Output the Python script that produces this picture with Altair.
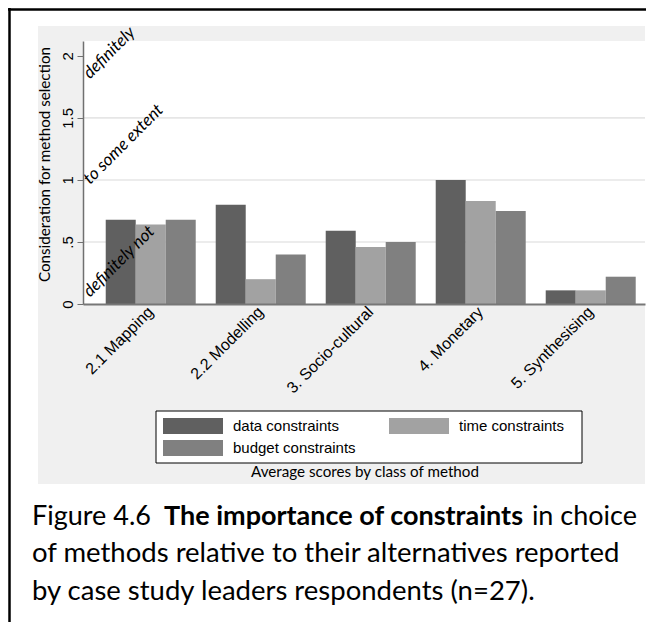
import altair as alt
import pandas as pd

methods = ["2.1 Mapping", "2.2 Modelling", "3. Socio-cultural", "4. Monetary", "5. Synthesising"]
series = ["data constraints", "time constraints", "budget constraints"]
colors = ["#606060", "#a2a2a2", "#808080"]
data_c = [0.68, 0.80, 0.59, 1.00, 0.11]
time_c = [0.64, 0.20, 0.46, 0.83, 0.11]
budget_c = [0.68, 0.40, 0.50, 0.75, 0.22]

y_ticks = [0, 0.5, 1, 1.5, 2]
grid_vals = [0.5, 1, 1.5]
ann_text = ["definitely", "to some extent", "definitely not"]
ann_y = [1.81, 0.96, 0.05]

y_title = "Consideration for method selection"
x_title = "Average scores by class of method"
cap1a = "Figure 4.6"
cap1b = "The importance of constraints"
cap1c = "in choice"
cap2 = "of methods relative to their alternatives reported"
cap3 = "by case study leaders respondents (n=27)."

rows = []
for s, vals in zip(series, [data_c, time_c, budget_c]):
    for m, v in zip(methods, vals):
        rows.append({"method": m, "series": s, "value": v})
df = pd.DataFrame(rows)
one = pd.DataFrame({"k": [0]})
grid_df = pd.DataFrame({"v": grid_vals})
ann_df = pd.DataFrame({"t": ann_text, "v": ann_y})

# legend order: Vega fills legend columns top-to-bottom
legend_order = [series[0], series[2], series[1]]
legend_colors = [colors[0], colors[2], colors[1]]

W, H = 562, 263
CAL = "Lato"
ARIAL = "Liberation Sans"

yscale = alt.Scale(domain=[0, 2.12], nice=False, zero=True)
yaxis = alt.Axis(title=y_title, values=y_ticks, grid=False,
                 labelExpr="datum.value == 0.5 ? '.5' : format(datum.value, '~g')",
                 labelAngle=270, labelAlign="center", labelBaseline="alphabetic",
                 labelPadding=5, labelFont=ARIAL, labelFontSize=15, labelColor="black",
                 tickSize=6, tickColor="#707070", domainColor="#707070", domainWidth=1.5,
                 titleFont=CAL, titleFontSize=15.2, titleFontWeight="normal", titleColor="black",
                 titleX=-39, titleY=123, titleAlign="center", titleBaseline="middle",
                 titleAngle=270, zindex=1)

gray = alt.Chart(one).mark_rect(color="#f0f0f0").encode(
    x=alt.value(-45), x2=alt.value(W), y=alt.value(-15), y2=alt.value(443))
white = alt.Chart(one).mark_rect(color="#ffffff").encode(
    x=alt.value(0), x2=alt.value(W), y=alt.value(0), y2=alt.value(H))
grid = alt.Chart(grid_df).mark_rule(color="#e6e6e6", strokeWidth=1.6).encode(
    x=alt.value(0), x2=alt.value(W), y=alt.Y("v:Q", scale=yscale, axis=yaxis))

bars = alt.Chart(df).mark_bar().encode(
    x=alt.X("method:N", sort=methods,
            scale=alt.Scale(paddingInner=0.1818, paddingOuter=0.1455, align=0.71),
            axis=alt.Axis(title=None, labelAngle=315, labelAlign="right", labelBaseline="middle",
                          labelPadding=5, ticks=False, labelFont=ARIAL, labelFontSize=16,
                          labelColor="black", domainColor="#777777", domainWidth=2, zindex=1)),
    xOffset=alt.XOffset("series:N", sort=series, scale=alt.Scale(paddingInner=0, paddingOuter=0)),
    y=alt.Y("value:Q", scale=yscale, axis=yaxis),
    color=alt.Color("series:N", sort=legend_order,
                    scale=alt.Scale(domain=legend_order, range=legend_colors),
                    legend=alt.Legend(title=None, orient="none", legendX=73, legendY=370,
                                      columns=2, columnPadding=33, rowPadding=6,
                                      symbolType="M-1,-1H6.5V1H-1Z", symbolSize=256,
                                      symbolStrokeWidth=0, symbolOpacity=1, labelOffset=54,
                                      labelFont=ARIAL, labelFontSize=15, labelColor="black",
                                      padding=7)),
)

legend_box = alt.Chart(one).mark_rect(fill="white", stroke="black", strokeWidth=1).encode(
    x=alt.value(73), x2=alt.value(499), y=alt.value(370), y2=alt.value(422))

ann = alt.Chart(ann_df).mark_text(angle=315, align="left", baseline="alphabetic", font=CAL,
                                  fontSize=17, fontStyle="italic", color="black").encode(
    x=alt.value(7), y=alt.Y("v:Q", scale=yscale, axis=yaxis), text="t:N")

xt = alt.Chart(one).mark_text(font=CAL, fontSize=15.2, color="black", baseline="middle").encode(
    x=alt.value(282), y=alt.value(431), text=alt.value(x_title))

cfont = dict(font=CAL, color="black", baseline="alphabetic")
c1a = alt.Chart(one).mark_text(fontSize=27, align="left", **cfont).encode(
    x=alt.value(-51), y=alt.value(484), text=alt.value(cap1a))
c1b = alt.Chart(one).mark_text(fontSize=27, align="left", fontWeight="bold", **cfont).encode(
    x=alt.value(81), y=alt.value(484), text=alt.value(cap1b))
c1c = alt.Chart(one).mark_text(fontSize=27, align="right", **cfont).encode(
    x=alt.value(554), y=alt.value(484), text=alt.value(cap1c))
c2 = alt.Chart(one).mark_text(fontSize=27.5, align="left", **cfont).encode(
    x=alt.value(-51), y=alt.value(521), text=alt.value(cap2))
c3 = alt.Chart(one).mark_text(fontSize=27.5, align="left", **cfont).encode(
    x=alt.value(-51), y=alt.value(559), text=alt.value(cap3))

frame_l = alt.Chart(one).mark_rule(color="black", strokeWidth=2.5).encode(
    x=alt.value(-73.5), y=alt.value(-33), y2=alt.value(581))
frame_t = alt.Chart(one).mark_rule(color="black", strokeWidth=2.5).encode(
    x=alt.value(-75), x2=alt.value(575), y=alt.value(-31.5))

chart = alt.layer(gray, white, grid, bars, ann, legend_box, xt, c1a, c1b, c1c, c2, c3,
                  frame_l, frame_t).properties(
    width=W, height=H,
    autosize=alt.AutoSizeParams(type="none"),
    padding={"left": 75, "top": 33, "right": 1, "bottom": 318},
    background="white",
).configure_view(stroke=None)

chart.save("out.html", embed_options={"renderer": "svg", "actions": False})
